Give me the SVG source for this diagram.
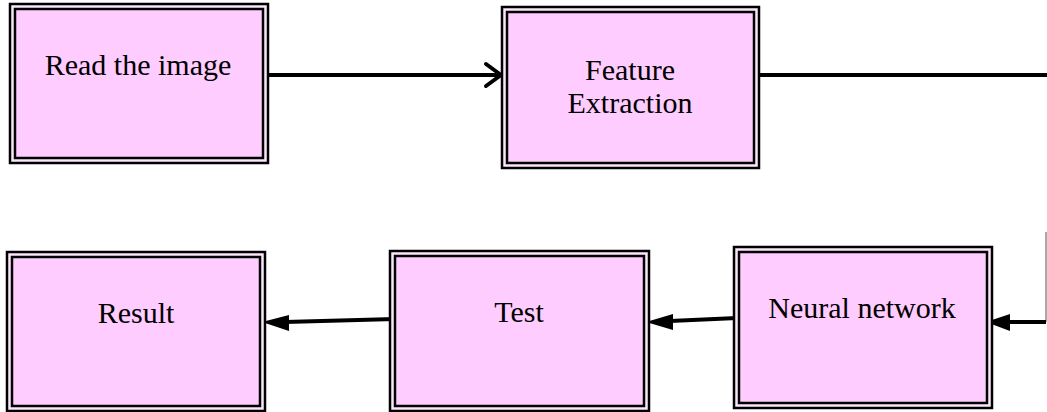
<svg xmlns="http://www.w3.org/2000/svg" width="1047" height="412" viewBox="0 0 1047 412">
<style>
.outer{fill:#fbe6fb;stroke:#000;stroke-width:2.5}
.inner{fill:#ffccff;stroke:#000;stroke-width:2.5}
.lbl{font-family:"Liberation Serif","Times New Roman",serif;font-size:30px;fill:#000;text-anchor:middle}
.conn{fill:none;stroke:#000;stroke-width:4}
</style>
<rect width="1047" height="412" fill="#fff"/>
<g id="connectors">
<path class="conn" d="M268,75 L500,75" stroke-width="3.5"/>
<path d="M486,64 L501,75 L486,86" fill="none" stroke="#000" stroke-width="4" stroke-linecap="round" stroke-linejoin="round"/>
<path class="conn" d="M759,75 L1047,75" stroke-width="3.5"/>
<path d="M1046,232 L1046,322" fill="none" stroke="#555" stroke-width="1"/>
<path class="conn" d="M1046,322 L1006,322"/>
<path d="M1010,314 L986,322 L1010,331 Z" fill="#000"/>
<path class="conn" d="M737,318 L670,321"/>
<path d="M673,314 L646,322 L673,330 Z" fill="#000"/>
<path class="conn" d="M395,319 L285,322"/>
<path d="M289,315 L262,322 L289,331 Z" fill="#000"/>
</g>
<g id="node-read">
<rect class="outer" x="10" y="4" width="258" height="159"/>
<rect class="inner" x="15" y="9" width="248" height="149"/>
<text class="lbl" x="138" y="75">Read the image</text>
</g>
<g id="node-feature">
<rect class="outer" x="502" y="7" width="257" height="161"/>
<rect class="inner" x="507" y="12" width="247" height="151"/>
<text class="lbl" x="630" y="80">Feature</text>
<text class="lbl" x="630" y="113">Extraction</text>
</g>
<g id="node-neural">
<rect class="outer" x="734" y="247" width="258" height="161"/>
<rect class="inner" x="739" y="252" width="248" height="151"/>
<text class="lbl" x="862" y="318">Neural network</text>
</g>
<g id="node-test">
<rect class="outer" x="390" y="251" width="259" height="160"/>
<rect class="inner" x="395" y="256" width="249" height="150"/>
<text class="lbl" x="519" y="322">Test</text>
</g>
<g id="node-result">
<rect class="outer" x="7" y="252" width="258" height="159"/>
<rect class="inner" x="12" y="257" width="248" height="149"/>
<text class="lbl" x="136" y="323">Result</text>
</g>
</svg>
